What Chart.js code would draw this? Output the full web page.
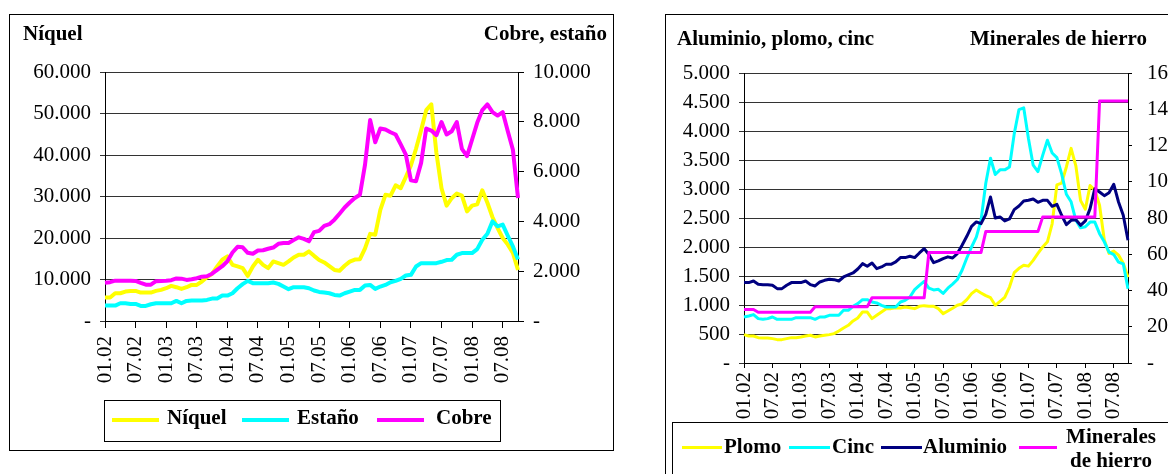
<!DOCTYPE html>
<html lang="es">
<head>
<meta charset="utf-8">
<title>Precios de metales</title>
<script src="https://cdn.jsdelivr.net/npm/chart.js@4.4.1/dist/chart.umd.min.js"></script>
<style>
  html, body { margin: 0; padding: 0; background: #fff; }
  body { width: 1168px; height: 474px; position: relative; overflow: hidden; font-family: "Liberation Serif", "Times New Roman", serif; }
  .marco { position: absolute; border: 1px solid #000; box-sizing: border-box; }
  canvas { position: absolute; top: 0; }
  .txt { position: absolute; font-weight: bold; font-size: 21px; line-height: 21px; white-space: nowrap; color: #000; }
  .linea { position: absolute; }
</style>
</head>
<body>

<div class="marco" style="left:9px;top:14px;width:605px;height:437px"></div>
<div class="marco" style="left:665px;top:14px;width:600px;height:500px"></div>

<canvas id="graf1" width="620" height="474" style="left:0"></canvas>
<canvas id="graf2" width="600" height="474" style="left:620px"></canvas>

<!-- titulos de ejes -->
<div class="txt" style="left:23px;top:23px">Níquel</div>
<div class="txt" style="right:561px;top:23px">Cobre, estaño</div>
<div class="txt" style="left:677px;top:28px">Aluminio, plomo, cinc</div>
<div class="txt" style="left:970px;top:28px">Minerales de hierro</div>

<!-- leyendas -->
<div class="marco" style="left:104px;top:400px;width:397px;height:42px"></div>
<div class="marco" style="left:672px;top:422px;width:600px;height:100px"></div>
<div id="leyendas"></div>

<script>
"use strict";

// Categorias (mes.año)
const meses = [
  "01.02","02.02","03.02","04.02","05.02","06.02","07.02","08.02","09.02","10.02","11.02","12.02",
  "01.03","02.03","03.03","04.03","05.03","06.03","07.03","08.03","09.03","10.03","11.03","12.03",
  "01.04","02.04","03.04","04.04","05.04","06.04","07.04","08.04","09.04","10.04","11.04","12.04",
  "01.05","02.05","03.05","04.05","05.05","06.05","07.05","08.05","09.05","10.05","11.05","12.05",
  "01.06","02.06","03.06","04.06","05.06","06.06","07.06","08.06","09.06","10.06","11.06","12.06",
  "01.07","02.07","03.07","04.07","05.07","06.07","07.07","08.07","09.07","10.07","11.07","12.07",
  "01.08","02.08","03.08","04.08","05.08","06.08","07.08","08.08","09.08","10.08"
];

// Grafico 1
const niquel = [
  5640, 5640, 6690, 6690, 7090, 7250, 7250, 6850, 6850, 6850,
  7250, 7500, 7900, 8460, 8140, 7740, 8140, 8700, 8700, 9510,
  10560, 11370, 13140, 14750, 15560, 13540, 13140, 12740, 10880, 13140,
  14750, 13540, 12740, 14350, 13940, 13540, 14350, 15310, 15960, 15960,
  16770, 15700, 14700, 14100, 13200, 12300, 12100, 13300, 14300, 14800,
  14900, 17500, 21000, 20800, 26800, 30400, 30200, 32700, 32000, 34700,
  37500, 41500, 46000, 50800, 52200, 40500, 32000, 27800, 29600, 30700,
  30200, 26400, 27800, 28100, 31500, 28500, 25000, 22400, 20000, 18400,
  16400, 12300
];
const estano = [
  3710, 3710, 3710, 4270, 4270, 4110, 4110, 3630, 3630, 4030,
  4270, 4270, 4270, 4270, 4840, 4270, 4840, 4920, 4920, 4920,
  5080, 5400, 5400, 6130, 6130, 6690, 7900, 8870, 9670, 9110,
  9110, 9110, 9110, 9270, 8950, 8300, 7660, 8140, 8140, 8140,
  7900, 7340, 7010, 6850, 6690, 6290, 6130, 6690, 7090, 7500,
  7500, 8540, 8700, 7740, 8300, 8700, 9350, 9670, 10150, 10960,
  11120, 13140, 13940, 13940, 13940, 13940, 14270, 14670, 14750, 15960,
  16360, 16360, 16360, 17330, 19590, 21040, 24020, 22810, 23220, 20550,
  17970, 14800
];
const cobre = [
  1540, 1560, 1620, 1620, 1620, 1620, 1610, 1530, 1460, 1460,
  1600, 1610, 1620, 1640, 1710, 1700, 1650, 1680, 1720, 1780,
  1800, 1900, 2050, 2200, 2400, 2750, 2980, 2960, 2740, 2700,
  2830, 2840, 2900, 2950, 3100, 3130, 3130, 3250, 3360, 3300,
  3200, 3570, 3620, 3820, 3890, 4070, 4310, 4560, 4760, 4940,
  5070, 6280, 8070, 7180, 7730, 7690, 7580, 7490, 7090, 6680,
  5650, 5610, 6350, 7730, 7650, 7460, 7990, 7490, 7620, 7990,
  6910, 6620, 7290, 7960, 8470, 8700, 8390, 8250, 8390, 7620,
  6880, 4940
];

// Grafico 2
const plomo = [
  489, 466, 466, 437, 432, 432, 420, 403, 403, 420,
  437, 437, 449, 466, 478, 449, 466, 478, 489, 506,
  552, 604, 650, 725, 776, 879, 879, 765, 822, 879,
  937, 937, 954, 948, 966, 954, 937, 977, 989, 979,
  979, 937, 851, 897, 943, 995, 1018, 1092, 1195, 1259,
  1207, 1161, 1126, 995, 1063, 1132, 1310, 1558, 1633, 1684,
  1670, 1770, 1890, 2000, 2090, 2400, 3070, 3100, 3380, 3700,
  3400, 2800, 2650, 3060, 2980, 2720, 2120, 1890, 1930, 1860,
  1720, 1480
];
const cinc = [
  793, 811, 834, 765, 753, 765, 793, 753, 753, 753,
  753, 782, 782, 782, 782, 753, 793, 793, 822, 822,
  822, 908, 908, 977, 1023, 1092, 1092, 1052, 1035, 995,
  966, 966, 966, 1052, 1081, 1138, 1264, 1339, 1408, 1290,
  1260, 1270, 1200, 1290, 1360, 1440, 1600, 1810, 2000, 2170,
  2460, 3100, 3530, 3250, 3330, 3330, 3380, 3950, 4370, 4400,
  3870, 3410, 3300, 3580, 3840, 3620, 3540, 3260, 2910, 2780,
  2460, 2330, 2350, 2430, 2430, 2230, 2090, 1910, 1870, 1740,
  1710, 1280
];
const aluminio = [
  1386, 1386, 1414, 1357, 1351, 1351, 1340, 1282, 1282, 1340,
  1386, 1386, 1386, 1414, 1351, 1328, 1397, 1426, 1443, 1437,
  1414, 1483, 1518, 1552, 1621, 1713, 1667, 1725, 1627, 1656,
  1702, 1702, 1742, 1817, 1817, 1840, 1817, 1897, 1972, 1870,
  1730, 1760, 1800, 1830, 1810, 1886, 2030, 2185, 2357, 2432,
  2403, 2563, 2862, 2500, 2518, 2449, 2483, 2644, 2707, 2793,
  2805, 2828, 2770, 2805, 2805, 2701, 2736, 2547, 2386, 2460,
  2471, 2374, 2449, 2661, 3006, 2949, 2885, 2937, 3080, 2776,
  2547, 2115
];
const hierro = [
  29.5, 29.5, 29.5, 28, 28, 28, 28, 28, 28, 28,
  28, 28, 28, 28, 28, 31, 31, 31, 31, 31,
  31, 31, 31, 31, 31, 31, 31, 36, 36, 36,
  36, 36, 36, 36, 36, 36, 36, 36, 36, 61,
  61, 61, 61, 61, 61, 61, 61, 61, 61, 61,
  61, 72.5, 72.5, 72.5, 72.5, 72.5, 72.5, 72.5, 72.5, 72.5,
  72.5, 72.5, 72.5, 80.5, 80.5, 80.5, 80.5, 80.5, 80.5, 80.5,
  80.5, 80.5, 80.5, 80.5, 80.5, 144.5, 144.5, 144.5, 144.5, 144.5,
  144.5, 144.5
];

const fuente = { family: "Liberation Serif", size: 21 };

// 12000 -> "12.000", 0 -> "-"
function formato(v) {
  if (v === 0) return "-";
  return String(v).replace(/\B(?=(\d{3})+(?!\d))/g, ".");
}

function ejeX(alto, largoTick, separacion) {
  return {
    type: "category",
    offset: false,
    grid: { drawOnChartArea: false, drawTicks: true, tickLength: largoTick, color: "#000" },
    border: { color: "#000" },
    ticks: {
      autoSkip: false, minRotation: 90, maxRotation: 90, padding: separacion,
      color: "#000", font: fuente,
      callback: (v, i) => (i % 6 === 0 ? meses[i] : null)
    },
    afterFit: (s) => { s.height = alto; }
  };
}

function ejeY(lado, min, max, paso, ancho, conRejilla, largoTick, separacion) {
  return {
    position: lado,
    min: min, max: max,
    grid: { drawOnChartArea: conRejilla, tickLength: largoTick, color: conRejilla ? "#333" : "#000" },
    border: { color: "#000" },
    ticks: { stepSize: paso, padding: separacion, color: "#000", font: fuente, callback: formato },
    afterFit: (s) => { s.width = ancho; }
  };
}

function serie(nombre, datos, color, grosor, eje, orden) {
  return {
    label: nombre, data: datos, borderColor: color, backgroundColor: color,
    borderWidth: grosor, pointRadius: 0, tension: 0, yAxisID: eje, order: orden,
    borderJoinStyle: "round"
  };
}

const opcionesBase = {
  responsive: false,
  animation: false,
  devicePixelRatio: 1,
  plugins: { legend: { display: false }, tooltip: { enabled: false } },
  layout: { padding: { top: 72, left: 0, right: 0, bottom: 0 } }
};

new Chart(document.getElementById("graf1"), {
  type: "line",
  data: {
    labels: meses,
    datasets: [
      serie("Níquel", niquel, "#FFFF00", 4, "y", 2),
      serie("Estaño", estano, "#00FFFF", 4, "y", 1),
      serie("Cobre", cobre, "#FF00FF", 4, "y2", 0)
    ]
  },
  options: {
    ...opcionesBase,
    scales: {
      x: ejeX(153, 7, 8),
      y: ejeY("left", 0, 60000, 10000, 105, true, 5, 9),
      y2: ejeY("right", 0, 10000, 2000, 102, false, 6, 9)
    }
  }
});

new Chart(document.getElementById("graf2"), {
  type: "line",
  data: {
    labels: meses,
    datasets: [
      serie("Plomo", plomo, "#FFFF00", 3, "y", 3),
      serie("Cinc", cinc, "#00FFFF", 3, "y", 2),
      serie("Aluminio", aluminio, "#000080", 3, "y", 1),
      serie("Minerales de hierro", hierro, "#FF00FF", 3, "y2", 0)
    ]
  },
  options: {
    ...opcionesBase,
    layout: { padding: { top: 73, left: 0, right: 0, bottom: 0 } },
    scales: {
      x: ejeX(111, 5, 4),
      y: ejeY("left", 0, 5000, 500, 124, true, 5, 9),
      y2: ejeY("right", 0, 160, 20, 92, false, 4, 15)
    }
  }
});

// leyendas en HTML (muestra de linea + texto)
const leyendas = document.getElementById("leyendas");
function itemLeyenda(color, x, y, largo, grosor, textoX, textoY, texto, centrado) {
  const l = document.createElement("div");
  l.className = "linea";
  l.style.cssText = `left:${x}px;top:${y - grosor / 2}px;width:${largo}px;height:${grosor}px;background:${color}`;
  leyendas.appendChild(l);
  const t = document.createElement("div");
  t.className = "txt";
  t.innerHTML = texto;
  t.style.left = textoX + "px";
  t.style.top = textoY + "px";
  if (centrado) {
    t.style.lineHeight = "24px";
    t.style.textAlign = "center";
    t.style.width = "100px";
  }
  leyendas.appendChild(t);
}
itemLeyenda("#FFFF00", 112, 420, 47, 4, 167, 407, "Níquel");
itemLeyenda("#00FFFF", 242, 420, 47, 4, 297, 407, "Estaño");
itemLeyenda("#FF00FF", 377, 420, 47, 4, 436, 407, "Cobre");

itemLeyenda("#FFFF00", 682, 447, 40, 3, 724, 436, "Plomo");
itemLeyenda("#00FFFF", 789, 447, 41, 3, 832, 436, "Cinc");
itemLeyenda("#000080", 881, 447, 41, 3, 923, 436, "Aluminio");
itemLeyenda("#FF00FF", 1019, 447, 38, 3, 1061, 424, "Minerales<br>de hierro", true);
</script>
</body>
</html>
